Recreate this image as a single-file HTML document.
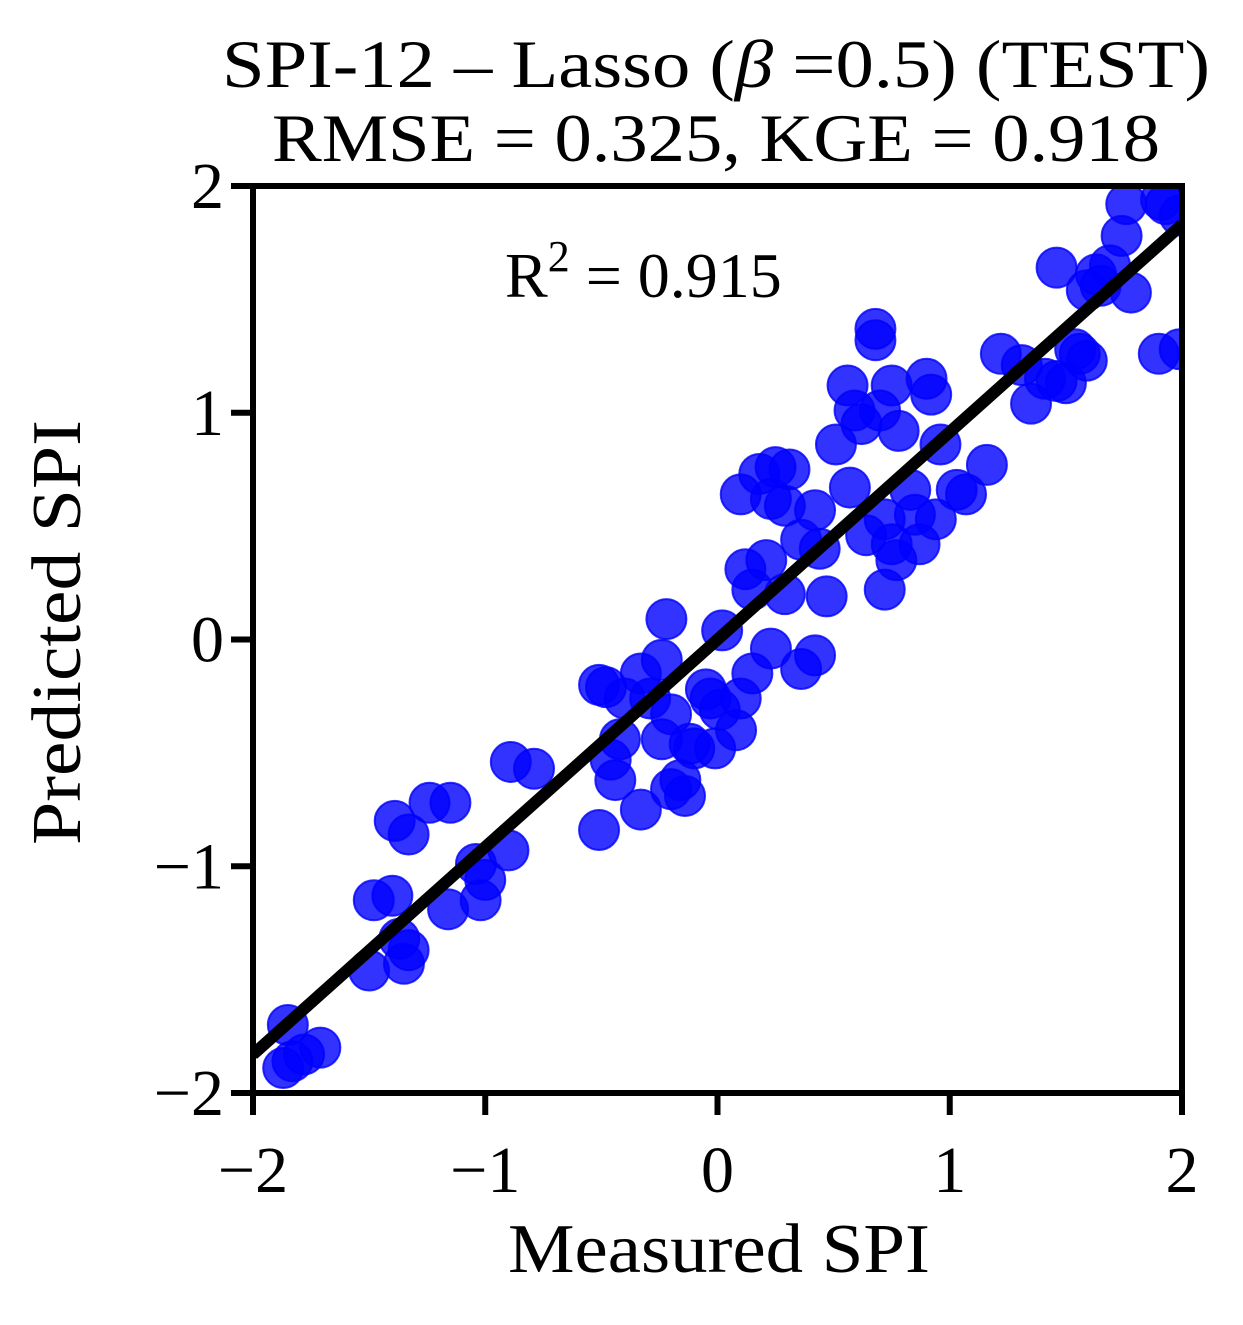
<!DOCTYPE html>
<html><head><meta charset="utf-8"><style>
html,body{margin:0;padding:0;background:#fff;}
svg text{font-family:"Liberation Serif",serif;fill:#000;}
</style></head><body>
<svg id="chart" width="1243" height="1320" viewBox="0 0 1243 1320" xmlns="http://www.w3.org/2000/svg">
<defs><clipPath id="plotclip"><rect x="253" y="186" width="929" height="907"/></clipPath></defs>
<text x="222" y="87" font-size="68" textLength="988" lengthAdjust="spacingAndGlyphs">SPI-12 – Lasso (<tspan font-style="italic">β</tspan> =0.5) (TEST)</text>
<text x="272" y="161" font-size="68" textLength="888" lengthAdjust="spacingAndGlyphs">RMSE = 0.325, KGE = 0.918</text>
<g id="points" clip-path="url(#plotclip)"></g>
<g id="fitline" clip-path="url(#plotclip)"></g>
<rect x="253" y="186" width="929" height="907" fill="none" stroke="#000" stroke-width="6"/>
<g id="axes"></g>
<text x="505" y="297" font-size="64">R<tspan dy="-26" font-size="44">2</tspan><tspan dy="26"> = 0.915</tspan></text>
<text x="508" y="1272" font-size="70" textLength="422" lengthAdjust="spacingAndGlyphs">Measured SPI</text>
<text transform="translate(80,845) rotate(-90)" font-size="70" textLength="425" lengthAdjust="spacingAndGlyphs">Predicted SPI</text>
</svg>
<script>
const measured=[-1.85,-1.87,-1.78,-1.71,-1.83,-1.48,-1.50,-1.40,-1.37,-1.35,-1.33,-1.39,-1.33,-1.24,-1.15,-1.16,-1.04,-1.02,-1.00,-0.90,-0.89,-0.79,-0.51,-0.48,-0.51,-0.46,-0.44,-0.42,-0.40,-0.33,-0.33,-0.29,-0.24,-0.22,-0.24,-0.20,-0.20,-0.16,-0.14,-0.12,-0.10,-0.05,-0.03,-0.01,0.01,0.02,0.08,0.10,0.15,0.23,0.36,0.42,0.10,0.12,0.15,0.18,0.21,0.25,0.23,0.29,0.31,0.29,0.36,0.42,0.44,0.47,0.51,0.57,0.56,0.59,0.62,0.64,0.68,0.68,0.70,0.72,0.75,0.77,0.72,0.78,0.75,0.83,0.85,0.87,0.90,0.92,0.94,0.96,1.03,1.07,1.16,1.22,1.31,1.35,1.41,1.46,1.50,1.54,1.56,1.59,1.46,1.59,1.63,1.65,1.69,1.78,1.74,1.76,1.91,1.93,1.90,1.99,1.99];
const predicted=[-1.70,-1.89,-1.83,-1.80,-1.86,-1.15,-1.46,-1.13,-1.32,-1.43,-1.37,-0.80,-0.86,-0.72,-0.72,-1.19,-0.99,-1.15,-1.06,-0.93,-0.54,-0.57,-0.20,-0.21,-0.84,-0.53,-0.62,-0.44,-0.26,-0.15,-0.75,-0.26,-0.44,0.09,-0.09,-0.33,-0.66,-0.62,-0.69,-0.46,-0.48,-0.22,-0.26,-0.48,-0.31,0.04,-0.40,-0.26,-0.15,-0.04,-0.13,-0.07,0.64,0.31,0.22,0.73,0.35,0.76,0.62,0.59,0.75,0.20,0.44,0.57,0.40,0.19,0.86,0.67,1.12,1.01,0.95,0.46,1.37,1.32,1.01,0.53,0.42,0.35,0.22,0.92,1.12,0.66,0.55,0.42,1.15,1.08,0.53,0.86,0.66,0.64,0.77,1.26,1.21,1.04,1.15,1.14,1.13,1.28,1.26,1.23,1.64,1.54,1.61,1.56,1.65,1.53,1.78,1.92,1.94,1.92,1.26,1.28,1.87];
const tickValues=[-2,-1,0,1,2];
const tickLabels=["\u22122","\u22121","0","1","2"];
const fitSlope=0.915, fitIntercept=0.0;
const NS='http://www.w3.org/2000/svg';
const X0=253,X1=1182,Y0=1093,Y1=186;
function sx(v){return X0+(v+2)/4*(X1-X0);}
function sy(v){return Y0-(v+2)/4*(Y0-Y1);}
const pts=document.getElementById('points');
for(let i=0;i<measured.length;i++){
  const c=document.createElementNS(NS,'circle');
  c.setAttribute('cx',sx(measured[i]));c.setAttribute('cy',sy(predicted[i]));c.setAttribute('r',20);
  c.setAttribute('fill','rgba(0,0,255,0.8)');c.setAttribute('stroke','rgba(0,0,255,0.8)');c.setAttribute('stroke-width',2);
  
  
  pts.appendChild(c);
}
const fl=document.createElementNS(NS,'line');
fl.setAttribute('x1',sx(-2));fl.setAttribute('y1',sy(fitSlope*-2+fitIntercept));
fl.setAttribute('x2',sx(2));fl.setAttribute('y2',sy(fitSlope*2+fitIntercept));
fl.setAttribute('stroke','#000');fl.setAttribute('stroke-width',12);


document.getElementById('fitline').appendChild(fl);
const ax=document.getElementById('axes');
tickValues.forEach((v,i)=>{
  const x=sx(v),y=sy(v);
  const tx=document.createElementNS(NS,'line');
  tx.setAttribute('x1',x);tx.setAttribute('x2',x);tx.setAttribute('y1',Y0);tx.setAttribute('y2',Y0+22);
  tx.setAttribute('stroke','#000');tx.setAttribute('stroke-width',6);
  
  
  ax.appendChild(tx);
  const lx=document.createElementNS(NS,'text');
  lx.setAttribute('x',x);lx.setAttribute('y',1192);lx.setAttribute('font-size',66);lx.setAttribute('text-anchor','middle');
  lx.textContent=tickLabels[i];
  
  
  ax.appendChild(lx);
  const ty=document.createElementNS(NS,'line');
  ty.setAttribute('x1',X0-22);ty.setAttribute('x2',X0);ty.setAttribute('y1',y);ty.setAttribute('y2',y);
  ty.setAttribute('stroke','#000');ty.setAttribute('stroke-width',6);
  
  
  ax.appendChild(ty);
  const ly=document.createElementNS(NS,'text');
  ly.setAttribute('x',224);ly.setAttribute('y',y+22);ly.setAttribute('font-size',66);ly.setAttribute('text-anchor','end');
  ly.textContent=tickLabels[i];
  
  
  ax.appendChild(ly);
});
</script>
</body></html>
